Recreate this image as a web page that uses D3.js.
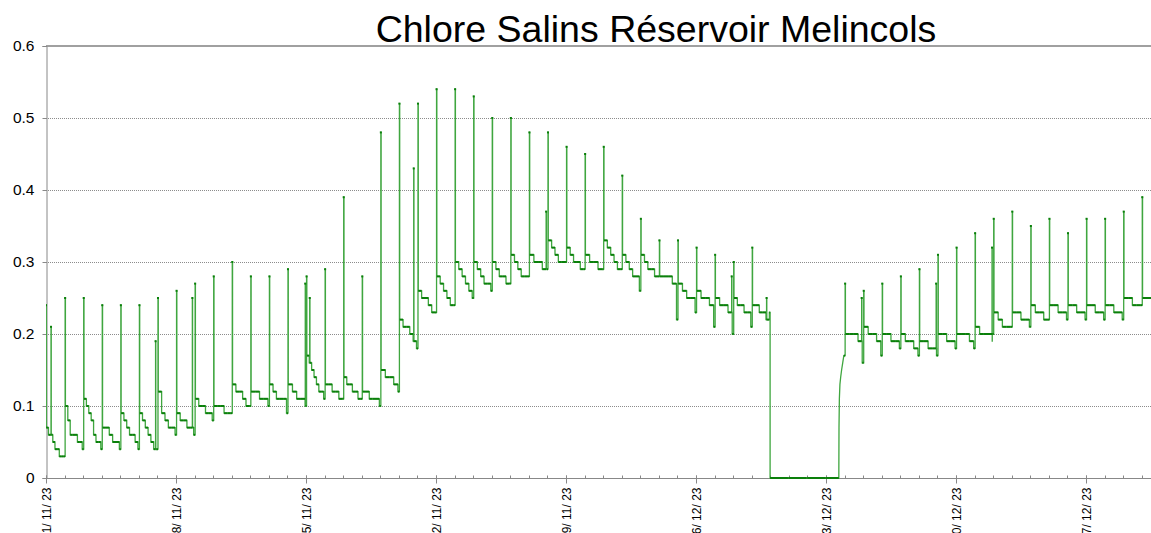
<!DOCTYPE html>
<html><head><meta charset="utf-8">
<script src="https://cdn.jsdelivr.net/npm/d3@7/dist/d3.min.js"></script>
<style>body{margin:0;background:#fff;} svg{display:block;font-family:"Liberation Sans",Arial,sans-serif;}</style>
</head><body>
<svg id="chart" width="1151" height="533"></svg>
<script>
// ---------- data ----------
const chartTitle = "Chlore Salins Réservoir Melincols";
const startDate = new Date(2023, 10, 1, 0, 0);
const endDate = new Date(2023, 11, 30, 12, 0);
const yTicks = [0, 0.1, 0.2, 0.3, 0.4, 0.5, 0.6];
const yTickLabels = ["0", "0.1", "0.2", "0.3", "0.4", "0.5", "0.6"];
const xTickDates = ["2023-11-01","2023-11-08","2023-11-15","2023-11-22","2023-11-29","2023-12-06","2023-12-13","2023-12-20","2023-12-27"];
const xTickLabels = ["01/ 11/ 23","08/ 11/ 23","15/ 11/ 23","22/ 11/ 23","29/ 11/ 23","06/ 12/ 23","13/ 12/ 23","20/ 12/ 23","27/ 12/ 23"];

// daily chlorine peak (null = no injection that day)
const peaks = [0.24,0.25,0.25,0.24,0.24,0.24,0.25,0.26,0.27,0.28,
               0.30,0.28,0.28,0.29,0.28,0.29,0.39,0.28,0.48,0.52,
               0.52,0.54,0.54,0.53,0.50,0.50,0.48,0.48,0.46,0.45,
               0.46,0.42,0.36,0.33,0.33,0.32,0.31,0.30,0.32,null,
               null,null,null,0.27,0.26,0.27,0.28,0.29,0.31,0.32,
               0.34,0.36,0.37,0.35,0.36,0.34,0.36,0.36,0.37,0.39];
// successive plateau levels after each daily peak
const levels = [
 [0.07,0.06,0.06,0.05,0.04,0.04,0.03,0.03],
 [0.10,0.08,0.06,0.06,0.06,0.05,0.05],
 [0.11,0.10,0.09,0.08,0.06,0.05,0.05],
 [0.07,0.07,0.06,0.05,0.05],
 [0.09,0.08,0.07,0.06,0.06,0.05],
 [0.09,0.08,0.07,0.06,0.05,0.04],
 [0.12,0.09,0.08,0.07,0.07],
 [0.09,0.08,0.08,0.07,0.07],
 [0.11,0.10,0.10,0.09,0.09],
 [0.10,0.10,0.10,0.09,0.09],
 [0.13,0.12,0.12,0.11,0.10],
 [0.12,0.12,0.11,0.11],
 [0.13,0.12,0.11,0.11,0.11],
 [0.13,0.12,0.11,0.11],
 [0.17,0.16,0.15,0.14,0.13,0.12,0.12],
 [0.13,0.13,0.12,0.12,0.11],
 [0.14,0.13,0.13,0.12,0.12,0.11],
 [0.12,0.12,0.11,0.11,0.11],
 [0.15,0.14,0.14,0.13],
 [0.22,0.21,0.21,0.20,0.19],
 [0.26,0.25,0.25,0.24,0.23],
 [0.28,0.27,0.26,0.25,0.24],
 [0.30,0.29,0.28,0.27,0.26],
 [0.30,0.29,0.28,0.27,0.27],
 [0.30,0.29,0.28,0.28,0.27],
 [0.31,0.30,0.29,0.28,0.28],
 [0.31,0.30,0.30,0.29],
 [0.33,0.32,0.31,0.30,0.30],
 [0.32,0.31,0.30,0.30,0.29],
 [0.31,0.30,0.30,0.29],
 [0.33,0.32,0.31,0.30,0.29],
 [0.31,0.30,0.29,0.28,0.28],
 [0.31,0.30,0.29,0.29,0.28],
 [0.28,0.28,0.28,0.27],
 [0.27,0.26,0.25,0.25],
 [0.26,0.25,0.25,0.24],
 [0.25,0.24,0.24,0.23],
 [0.25,0.24,0.24,0.23,0.23],
 [0.24,0.24,0.23,0.23,0.22],
 [0],[0],[0],[0],
 [0.20,0.20,0.20,0.19],
 [0.21,0.20,0.20,0.19],
 [0.20,0.20,0.19,0.19],
 [0.20,0.19,0.19,0.18],
 [0.19,0.19,0.18,0.18],
 [0.20,0.20,0.19,0.19],
 [0.20,0.20,0.20,0.19],
 [0.21,0.20,0.20,0.20],
 [0.23,0.22,0.21,0.21],
 [0.23,0.23,0.22,0.22],
 [0.24,0.23,0.23,0.22],
 [0.24,0.24,0.23,0.23],
 [0.24,0.24,0.23,0.23],
 [0.24,0.24,0.23,0.23],
 [0.24,0.24,0.23,0.23],
 [0.25,0.25,0.24,0.24],
 [0.25,0.25]
];
// low value reached just before the next injection
const dips = [0.03,0.04,0.04,0.04,0.04,0.04,0.06,0.06,0.08,0.09,
              0.10,0.10,0.09,0.10,0.11,0.11,0.11,0.10,0.12,0.18,
              0.23,0.24,0.25,0.26,0.27,0.28,0.29,0.30,0.29,0.29,
              0.29,0.26,0.28,0.22,0.23,0.21,0.20,0.21,0.23,0,
              0,0,null,0.16,0.17,0.18,0.17,0.17,0.18,0.18,
              0.19,0.21,0.21,0.22,0.22,0.22,0.22,0.22,0.24,0.25];
// short additional spikes: [day offset, value]
const extraSpikes = [[0.27,0.21],[5.9,0.19],[7.88,0.25],[13.96,0.27],[14.2,0.25],[19.8,0.43],
                     [26.93,0.37],[36.92,0.28],[38.8,0.25],[43.92,0.25],[47.93,0.27],[50.94,0.32]];
// refilling of the reservoir after the outage: [day offset, value]
const recovery = [[42.69,0],[42.70,0.07],[42.72,0.11],[42.75,0.13],[42.79,0.14],[42.84,0.15],[42.90,0.16],[42.96,0.17]];

// ---------- layout ----------
const W = 1151, H = 533;
const M = {left: 46, right: 0, top: 46, bottom: 55};
const DAY = 86400000;
const x = d3.scaleTime().domain([startDate, endDate]).range([M.left, W - M.right]);
const y = d3.scaleLinear().domain([0, 0.6]).range([H - M.bottom, M.top]);
const tDate = t => new Date(startDate.getTime() + t * DAY);

// ---------- build series ----------
const spikeOffset = 0.03, dipLength = 0.08;
let base = [];
peaks.forEach((p, d) => {
  let s;
  if (p !== null) { const t0 = d === 0 ? 0 : d + spikeOffset; base.push({t: t0, v: p, mark: true}); s = t0 + 0.015; }
  else { s = d - 0.01; }
  const e = d + 1 - dipLength + spikeOffset;
  const lv = levels[d];
  lv.forEach((v, i) => base.push({t: s + (e - s) * i / lv.length, v}));
  if (dips[d] !== null) base.push({t: e, v: dips[d]});
});
recovery.forEach(([t, v]) => base.push({t, v, linear: true}));
base.sort((a, b) => a.t - b.t);
const valueAt = t => { let v = base[0].v; for (const e of base) { if (e.t <= t) v = e.v; else break; } return v; };
const events = base.slice();
extraSpikes.forEach(([t, v]) => { const b = valueAt(t); events.push({t, v, mark: true}); events.push({t: t + 0.012, v: b}); });
events.sort((a, b) => a.t - b.t);
const pts = [];
events.forEach((e, i) => {
  if (i > 0 && !e.linear) pts.push([e.t, pts[pts.length - 1][1]]);
  pts.push([e.t, e.v]);
});
pts.push([(endDate - startDate) / DAY, pts[pts.length - 1][1]]);
// horizontal plateau segments (drawn darker, as in the source plot)
const flats = [];
for (let i = 0; i < pts.length - 1; i++) {
  if (pts[i][1] === pts[i + 1][1] && pts[i + 1][0] - pts[i][0] > 0.02) flats.push([pts[i], pts[i + 1]]);
}
const marks = events.filter(e => e.mark);

// ---------- draw ----------
const svg = d3.select("#chart");
svg.append("rect").attr("width", W).attr("height", H).attr("fill", "#fff");

// title
svg.append("text").attr("x", 656).attr("y", 42).attr("text-anchor", "middle")
  .attr("font-size", 37.5).attr("fill", "#000").text(chartTitle);

// grid
const grid = svg.append("g");
grid.selectAll("line").data(yTicks.filter(v => v > 0 && v < 0.6)).join("line")
  .attr("x1", M.left).attr("x2", W).attr("y1", d => Math.round(y(d)) + 0.5).attr("y2", d => Math.round(y(d)) + 0.5)
  .attr("stroke", "#8c8c8c").attr("stroke-width", 1).attr("stroke-dasharray", "1,1");
svg.append("line").attr("x1", M.left).attr("x2", W).attr("y1", y(0.6)).attr("y2", y(0.6))
  .attr("stroke", "#a0a0a0").attr("stroke-width", 2);

// y axis
const yAxis = d3.axisLeft(y).tickValues(yTicks).tickFormat((d, i) => yTickLabels[i]).tickSize(4).tickPadding(8);
const gy = svg.append("g").attr("transform", `translate(${M.left + 0.5},0)`).call(yAxis);
gy.select(".domain").attr("stroke", "#888");
gy.selectAll(".tick line").attr("stroke", "#888");
gy.selectAll(".tick text").attr("font-size", 15.5).attr("fill", "#000").attr("font-family", '"Liberation Sans",Arial,sans-serif');

// x axis
const xMinor = d3.timeDay.range(startDate, endDate);
const xMajor = xTickDates.map(s => { const [Y, Mo, D] = s.split("-").map(Number); return new Date(Y, Mo - 1, D); });
const gx = svg.append("g").attr("transform", `translate(0,${y(0) + 0.5})`);
gx.append("line").attr("x1", M.left).attr("x2", W).attr("stroke", "#888");
gx.selectAll(".minor").data(xMinor).join("line").attr("class", "minor")
  .attr("x1", d => Math.round(x(d)) + 0.5).attr("x2", d => Math.round(x(d)) + 0.5).attr("y1", -3).attr("y2", 0).attr("stroke", "#888");
gx.selectAll(".major").data(xMajor).join("line").attr("class", "major")
  .attr("x1", d => Math.round(x(d)) + 0.5).attr("x2", d => Math.round(x(d)) + 0.5).attr("y1", -3).attr("y2", 5).attr("stroke", "#888");
gx.selectAll(".lbl").data(xMajor).join("text").attr("class", "lbl")
  .attr("transform", d => `translate(${x(d) + 0.5},9) rotate(-90)`)
  .attr("text-anchor", "end").attr("dy", "0.35em").attr("font-size", 12).attr("fill", "#000")
  .text((d, i) => xTickLabels[i]);

// line
svg.append("clipPath").attr("id", "clip").append("rect")
  .attr("x", M.left).attr("y", 0).attr("width", W - M.left).attr("height", y(0) + 2);
const plot = svg.append("g").attr("clip-path", "url(#clip)");
const line = d3.line().x(d => x(tDate(d[0]))).y(d => y(d[1])).curve(d3.curveLinear);
plot.append("path").datum(pts)
  .attr("d", line).attr("fill", "none").attr("stroke", "#3fa63f").attr("stroke-width", 1.3)
  .attr("stroke-linejoin", "miter");
plot.selectAll(".flat").data(flats).join("path").attr("class", "flat")
  .attr("d", line).attr("fill", "none").attr("stroke", "#0a7f0a").attr("stroke-width", 2);
plot.selectAll(".mk").data(marks).join("rect").attr("class", "mk")
  .attr("x", d => x(tDate(d.t)) - 1).attr("y", d => y(d.v) - 1).attr("width", 2).attr("height", 2)
  .attr("fill", "#0a7f0a");
</script>
</body></html>
